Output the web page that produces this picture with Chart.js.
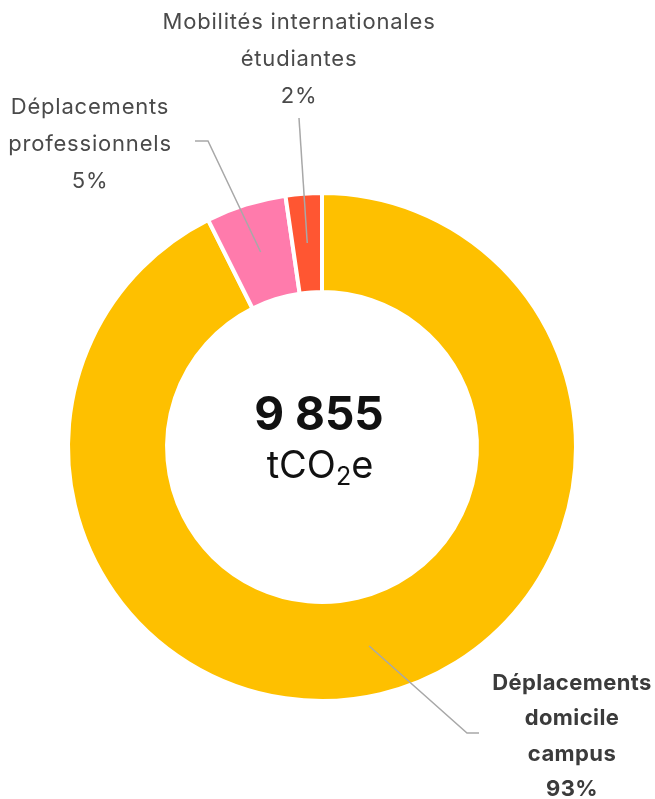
<!DOCTYPE html>
<html lang="fr">
  <head>
    <meta charset="UTF-8" />
    <title>Déplacements - tCO2e</title>
    <script src="https://cdn.jsdelivr.net/npm/chart.js"></script>
    <style>
      html, body {
        margin: 0;
        padding: 0;
        background: #ffffff;
      }
      #wrap {
        width: 655px;
        height: 799px;
        position: relative;
      }
    </style>
  </head>
  <body>
    <div id="wrap">
      <canvas id="donut" width="655" height="799"></canvas>
    </div>

    <script>
      // data
      const categories = [
        'Déplacements domicile campus',
        'Déplacements professionnels',
        'Mobilités internationales étudiantes',
      ];
      const shares = [92.6, 5.1, 2.3];
      const shareLabels = ['93%', '5%', '2%'];
      const labelLines = [
        ['Déplacements', 'domicile', 'campus'],
        ['Déplacements', 'professionnels'],
        ['Mobilités internationales', 'étudiantes'],
      ];
      const totalValue = '9 855';
      const colors = ['#FEC000', '#FF7BAC', '#FF5632'];

      const FONT = 'Inter, "Noto Sans", sans-serif';

      // where each label sits and how its leader line bends
      const labelLayout = [
        { x: 572, y: 683, bold: true, elbow: [467, 733], end: [479, 733] },
        { x: 90, y: 107, bold: false, elbow: [208, 141], end: [195, 141] },
        { x: 299, y: 22, bold: false, elbow: null, end: [299, 118] },
      ];

      const calloutPlugin = {
        id: 'callouts',
        afterDatasetsDraw(chart) {
          const ctx = chart.ctx;
          const arcs = chart.getDatasetMeta(0).data;
          ctx.save();

          // leader lines
          ctx.strokeStyle = '#a8a8a8';
          ctx.lineWidth = 1.5;
          arcs.forEach((arc, i) => {
            const p = arc.tooltipPosition();
            const lay = labelLayout[i];
            ctx.beginPath();
            ctx.moveTo(p.x, p.y);
            if (lay.elbow) ctx.lineTo(lay.elbow[0], lay.elbow[1]);
            ctx.lineTo(lay.end[0], lay.end[1]);
            ctx.stroke();
          });

          // label text
          ctx.textAlign = 'center';
          ctx.textBaseline = 'middle';
          labelLines.forEach((lines, i) => {
            const lay = labelLayout[i];
            const all = lines.concat([shareLabels[i]]);
            ctx.font = (lay.bold ? '700 ' : '400 ') + '22px ' + FONT;
            ctx.letterSpacing = lay.bold ? '0.4px' : '0.8px';
            ctx.fillStyle = lay.bold ? '#3b3b3b' : '#4a4a4a';
            all.forEach((t, k) => {
              ctx.fillText(t, lay.x, lay.y + k * (lay.bold ? 35.5 : 37));
            });
          });
          ctx.letterSpacing = '0px';

          // centre total
          const c = arcs[0];
          const cx = c.x;
          const cy = c.y;
          ctx.fillStyle = '#111111';
          ctx.font = '700 46px ' + FONT;
          ctx.fillText(totalValue, cx - 3, cy - 31);

          const big = '400 38px ' + FONT;
          const small = '400 25px ' + FONT;
          ctx.font = big;
          const w1 = ctx.measureText('tCO').width;
          const w3 = ctx.measureText('e').width;
          ctx.font = small;
          const w2 = ctx.measureText('2').width;
          let x = cx - 2 - (w1 + w2 + w3) / 2;
          const y = cy + 20;
          ctx.textAlign = 'left';
          ctx.font = big;
          ctx.fillText('tCO', x, y);
          x += w1;
          ctx.font = small;
          ctx.fillText('2', x, y + 10);
          x += w2;
          ctx.font = big;
          ctx.fillText('e', x, y);

          ctx.restore();
        },
      };

      new Chart(document.getElementById('donut'), {
        type: 'doughnut',
        data: {
          labels: categories,
          datasets: [
            {
              data: shares,
              backgroundColor: colors,
              borderColor: '#ffffff',
              borderWidth: 4,
            },
          ],
        },
        options: {
          responsive: false,
          animation: false,
          cutout: '61%',
          rotation: 0,
          layout: {
            padding: { left: 66, right: 77, top: 191, bottom: 96 },
          },
          plugins: {
            legend: { display: false },
            tooltip: { enabled: false },
          },
        },
        plugins: [calloutPlugin],
      });
    </script>
  </body>
</html>
